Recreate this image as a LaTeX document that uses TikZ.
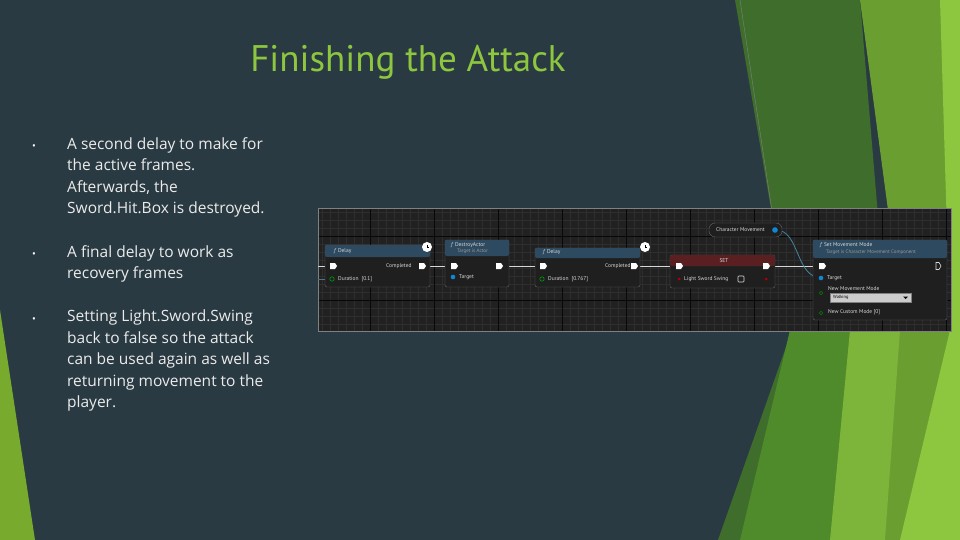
\documentclass[tikz,border=0pt]{standalone}
\usepackage{fontspec}
\setmainfont{PT Sans}
\newfontfamily\bulfont{Open Sans}
\begin{document}
\begin{tikzpicture}[x=1pt,y=-1pt,
 bnode/.style={fill=black!88,draw=black!60,rounded corners=2pt},
 hdr/.style={fill=#1,rounded corners=2pt},
 tx/.style={text=white!85!black,font=\fontsize{5.5}{6}\selectfont,inner sep=0pt,anchor=west},
 sub/.style={text=white!60!black,font=\fontsize{5}{6}\selectfont,inner sep=0pt,anchor=west},
 exec/.style={fill=white,draw=none},
 wire/.style={draw=white!85!black,line width=0.8pt},
 dot/.style={text=white,font=\bulfont\fontsize{10}{10}\selectfont,inner sep=0pt},
 bullet/.style={text=white!92!black,font=\bulfont\fontsize{15.5}{21.5}\selectfont,align=left,anchor=north west,inner sep=0pt}]
\definecolor{bg}{HTML}{2A3A42}
\definecolor{ttl}{HTML}{8DC63F}
\definecolor{gA}{HTML}{3F6E2C}
\definecolor{gB}{HTML}{6A9E30}
\definecolor{gC}{HTML}{8DC63F}
\definecolor{gD}{HTML}{4F8A2B}
\definecolor{gE}{HTML}{7DB53A}
\definecolor{gL}{HTML}{78AA2E}
\definecolor{hblue}{HTML}{2E4A60}
\definecolor{hred}{HTML}{5A1F20}
\fill[bg] (0,0) rectangle (960,540);
\useasboundingbox (0,0) rectangle (960,540);
% green decorations
\fill[gL] (0,310) -- (35,540) -- (0,540) -- cycle;
\fill[gA] (735,0) -- (860,0) -- (905,540) -- (718,540) -- (792,330) -- cycle;
\fill[gB] (860,0) -- (960,0) -- (960,540) -- (880,540) -- (900,300) -- cycle;
\fill[gC] (940,0) -- (960,0) -- (960,540) -- (900,540) -- (950,330) -- cycle;
\fill[gD] (790,330) -- (880,310) -- (860,540) -- (740,540) -- cycle;
\fill[gE] (850,330) -- (900,330) -- (885,540) -- (830,540) -- cycle;
\draw[black!50,line width=0.4pt] (740,0) -- (790,330);
% title
\node[text=ttl,font=\fontsize{37}{40}\selectfont,inner sep=0pt] (title) at (408,62) {Finishing the Attack};
% bullets
\node[dot] (b1) at (34,147) {•};
\node[bullet] (t1) at (67,137) {A second delay to make for\\the active frames.\\Afterwards, the\\Sword.Hit.Box is destroyed.};
\node[dot] (b2) at (34,255) {•};
\node[bullet] (t2) at (67,245) {A final delay to work as\\recovery frames};
\node[dot] (b3) at (34,320) {•};
\node[bullet] (t3) at (67,310) {Setting Light.Sword.Swing\\back to false so the attack\\can be used again as well as\\returning movement to the\\player.};
% screenshot
\fill[black!87] (318,208) rectangle (951,331);
\foreach \x in {322,330,...,950} \draw[black!82,line width=0.3pt] (\x,208) -- (\x,331);
\foreach \y in {212,220,...,331} \draw[black!82,line width=0.3pt] (318,\y) -- (951,\y);
\foreach \x in {370,434,...,950} \draw[black!97,line width=0.6pt] (\x,208) -- (\x,331);
\foreach \y in {236,300} \draw[black!97,line width=0.6pt] (318,\y) -- (951,\y);
\draw[black!50,line width=1pt] (318,208) rectangle (951,331);
% wires
\draw[wire] (318,266) -- (330,266);
\draw[wire] (425,266) -- (452,266);
\draw[wire] (502,266) -- (540,266);
\draw[wire] (636,266) -- (676,266);
\draw[wire] (768,266) -- (822,266);
\draw[cyan!50!black,line width=0.8pt] (318,279) -- (330,279);
\draw[cyan!60!black,line width=0.8pt] (776,230) .. controls (800,230) and (795,278) .. (822,278);
% Delay 1
\draw[bnode] (325,245) rectangle (430,287);
\fill[hdr=hblue] (325,245) rectangle (430,257);
\node[tx] (d1h) at (334,251) {\textit{f} Delay};
\node[tx] (d1c) at (386,266) {Completed};
\node[tx] (d1d) at (338,279) {Duration\ \ {[0.1]}};
\fill[exec] (330,263) -- (335,263) -- (337,266) -- (335,269) -- (330,269) -- cycle;
\fill[exec] (419,263) -- (424,263) -- (426,266) -- (424,269) -- (419,269) -- cycle;
\draw[green!60!black,line width=0.6pt] (332,279) circle (2.2);
\fill[white] (427,247) circle (5);
\draw[black] (427,247) -- (427,244.5) (427,247) -- (429,247);
% DestroyActor
\draw[bnode] (445,240) rectangle (509,287);
\fill[hdr=hblue] (445,240) rectangle (509,256);
\node[tx] (dah) at (451,245) {\textit{f} DestroyActor};
\node[sub] (das) at (457,251.5) {Target is Actor};
\fill[exec] (451,263) -- (456,263) -- (458,266) -- (456,269) -- (451,269) -- cycle;
\fill[exec] (496,263) -- (501,263) -- (503,266) -- (501,269) -- (496,269) -- cycle;
\fill[cyan!70!blue] (453,277) circle (2.3);
\node[tx] (dat) at (459,277) {Target};
% Delay 2
\draw[bnode] (535,248) rectangle (640,287);
\fill[hdr=hblue] (535,248) rectangle (640,258);
\node[tx] (d2h) at (543,252.5) {\textit{f} Delay};
\node[tx] (d2c) at (605,266) {Completed};
\node[tx] (d2d) at (548,279) {Duration\ \ {[0.767]}};
\fill[exec] (540,263) -- (545,263) -- (547,266) -- (545,269) -- (540,269) -- cycle;
\fill[exec] (631,263) -- (636,263) -- (638,266) -- (636,269) -- (631,269) -- cycle;
\draw[green!60!black,line width=0.6pt] (542,279) circle (2.2);
\fill[white] (645,247) circle (5);
\draw[black] (645,247) -- (645,244.5) (645,247) -- (647,247);
% Character Movement
\draw[bnode,rounded corners=6pt] (709,223) rectangle (782,237);
\node[tx] (cm) at (716,230) {Character Movement};
\fill[cyan!70!blue] (775,230) circle (2.8);
% SET
\draw[bnode] (670,255) rectangle (775,288);
\fill[hdr=hred] (670,255) rectangle (775,266);
\node[tx,anchor=center] (seth) at (724,261) {SET};
\fill[exec] (676,263) -- (681,263) -- (683,266) -- (681,269) -- (676,269) -- cycle;
\fill[exec] (763,263) -- (768,263) -- (770,266) -- (768,269) -- (763,269) -- cycle;
\fill[red!70!black] (679,279) circle (1.5);
\fill[red!70!black] (766,279) circle (1.5);
\node[tx] (setl) at (684,279) {Light Sword Swing};
\draw[white!85!black,line width=0.6pt,rounded corners=0.8pt] (738,276) rectangle (744,282);
% Set Movement Mode
\draw[bnode] (813,240) rectangle (947,320);
\fill[hdr=hblue] (813,240) rectangle (947,258);
\node[tx] (smh) at (820,245) {\textit{f} Set Movement Mode};
\node[sub] (sms) at (826,252) {Target is Character Movement Component};
\fill[exec] (819,263) -- (824,263) -- (826,266) -- (824,269) -- (819,269) -- cycle;
\draw[white!85!black,line width=0.6pt] (936,262.5) -- (939,262.5) -- (941,266) -- (939,269.5) -- (936,269.5) -- cycle;
\fill[cyan!70!blue] (821,278) circle (2.3);
\node[tx] (smt) at (827,278) {Target};
\draw[green!50!black,line width=0.5pt] (821,293) circle (1.8);
\node[tx] (smn) at (828,289) {New Movement Mode};
\draw[fill=white!80!black,draw=white!50!black] (830,293) rectangle (911,302);
\node[tx,text=black,font=\fontsize{4.5}{5}\selectfont] (smw) at (833,297.5) {Walking};
\fill[black] (903,296.5) -- (908,296.5) -- (905.5,299) -- cycle;
\draw[green!50!black,line width=0.5pt] (821,313) circle (1.8);
\node[tx] (smc) at (828,312) {New Custom Mode\ {[0]}};
\end{tikzpicture}
\end{document}
